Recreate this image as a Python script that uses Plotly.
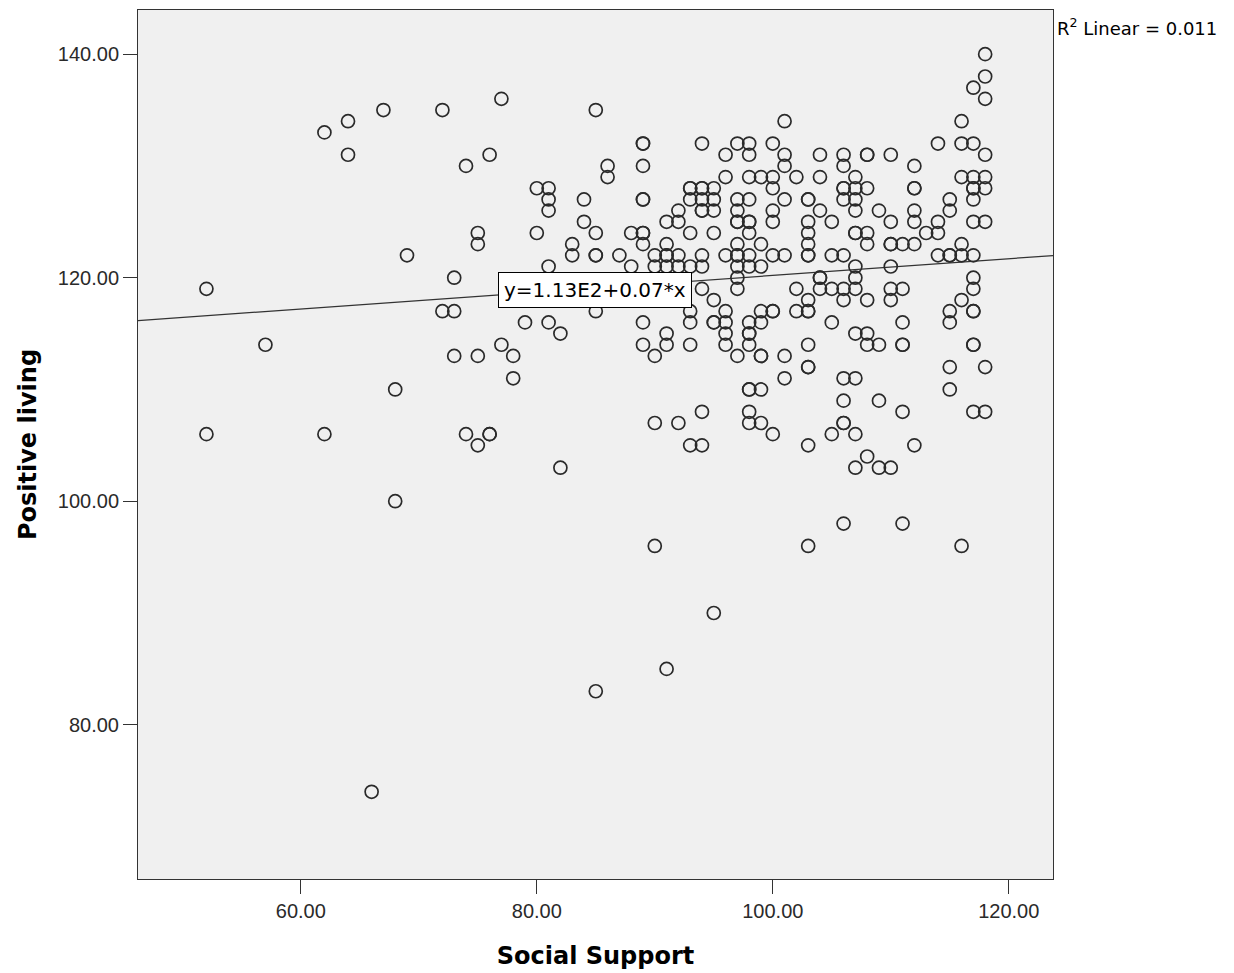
import plotly.graph_objects as go

social_support = [
    52, 52, 57, 62, 62, 64, 64, 66, 67, 68, 68, 69, 72, 72, 73, 73, 73, 74, 74, 75, 75, 75, 75, 76, 76, 76, 77, 77, 78, 78, 79, 81, 82, 82,
    85, 86, 86, 80, 81, 81, 81, 84, 84, 85, 80, 83, 83, 85, 85, 87, 81, 85,
    101, 89, 89, 94, 97, 98, 100, 96, 98, 101, 101, 89,
    96, 98, 99, 100, 102,
    100, 93, 93, 94, 94, 95,
    89, 89, 93, 94, 95, 97, 98, 101, 103, 103,
    92, 94, 94, 95, 97, 100,
    91, 92, 97, 97, 98, 98, 100, 103,
    88, 89, 89, 93, 95, 98, 103,
    89, 91, 97, 99, 103,
    90, 91, 91, 92, 94, 96, 97, 97, 98, 100, 101, 103, 103,
    88, 90, 91, 92, 93, 94, 97, 98, 99,
    118, 118, 117, 118, 116, 114, 116, 117, 118, 104, 106, 106, 108, 108, 110, 112,
    104, 107, 116, 117, 118,
    106, 106, 107, 108, 112, 112, 117, 117, 118,
    106, 107, 115, 117,
    104, 107, 109, 112, 115,
    105, 110, 112, 114, 117, 118,
    107, 107, 108, 113, 114,
    108, 110, 110, 111, 112, 116,
    105, 106, 114, 115, 115, 116, 117,
    107, 110,
    97, 97, 94, 95, 96, 93, 93, 89, 95, 95, 96, 98, 99, 100, 100, 99, 98, 98, 96, 91,
    89, 91, 93, 96, 98, 90, 97, 99, 99, 101, 101, 98, 98, 99, 94, 98, 90, 92, 98, 99,
    100, 93, 94, 102, 102, 103, 103, 103, 103,
    104, 104, 107, 117, 104, 105, 106, 107, 110, 111, 117,
    103, 106, 108, 110, 116,
    103, 115, 117, 117,
    105, 111, 115,
    107, 108,
    108, 109, 111, 111, 117, 117,
    103, 115, 118,
    106, 107, 115, 106, 109, 111, 117, 118, 106, 106, 105, 107, 112, 108, 107, 109, 110,
    90, 103, 106, 111, 116, 95, 91, 85,
]
positive_living = [
    119, 106, 114, 133, 106, 134, 131, 74, 135, 110, 100, 122, 135, 117, 117, 120, 113, 130, 106, 124, 123, 113, 105, 131, 106, 106, 136, 114, 113, 111, 116, 116, 115, 103,
    135, 130, 129, 128, 128, 127, 126, 127, 125, 124, 124, 123, 122, 122, 122, 122, 121, 117,
    134, 132, 132, 132, 132, 132, 132, 131, 131, 131, 130, 130,
    129, 129, 129, 129, 129,
    128, 128, 128, 128, 128, 128,
    127, 127, 127, 127, 127, 127, 127, 127, 127, 127,
    126, 126, 126, 126, 126, 126,
    125, 125, 125, 125, 125, 125, 125, 125,
    124, 124, 124, 124, 124, 124, 124,
    123, 123, 123, 123, 123,
    122, 122, 122, 122, 122, 122, 122, 122, 122, 122, 122, 122, 122,
    121, 121, 121, 121, 121, 121, 121, 121, 121,
    140, 138, 137, 136, 134, 132, 132, 132, 131, 131, 131, 130, 131, 131, 131, 130,
    129, 129, 129, 129, 129,
    128, 128, 128, 128, 128, 128, 128, 128, 128,
    127, 127, 127, 127,
    126, 126, 126, 126, 126,
    125, 125, 125, 125, 125, 125,
    124, 124, 124, 124, 124,
    123, 123, 123, 123, 123, 123,
    122, 122, 122, 122, 122, 122, 122,
    121, 121,
    120, 119, 119, 118, 117, 117, 116, 116, 116, 116, 116, 116, 117, 117, 117, 116, 115, 115, 115, 115,
    114, 114, 114, 114, 114, 113, 113, 113, 113, 113, 111, 110, 110, 110, 108, 108, 107, 107, 107, 107,
    106, 105, 105, 119, 117, 117, 114, 112, 105,
    120, 120, 120, 120, 119, 119, 119, 119, 119, 119, 119,
    118, 118, 118, 118, 118,
    117, 117, 117, 117,
    116, 116, 116,
    115, 115,
    114, 114, 114, 114, 114, 114,
    112, 112, 112,
    111, 111, 110, 109, 109, 108, 108, 108, 107, 107, 106, 106, 105, 104, 103, 103, 103,
    96, 96, 98, 98, 96, 90, 85, 83,
]

# Linear fit shown in the reference
fit_intercept = 112.7
fit_slope = 0.075
fit_label = "y=1.13E2+0.07*x"
r2_label = "R<sup>2</sup> Linear = 0.011"

x_range = [46.2, 123.75]
y_range = [66.2, 143.95]
x_ticks = [60, 80, 100, 120]
y_ticks = [80, 100, 120, 140]

fig = go.Figure()
fig.add_trace(go.Scatter(
    x=x_range, y=[fit_intercept + fit_slope * v for v in x_range],
    mode="lines", line=dict(color="#333333", width=1.2),
    hoverinfo="skip", showlegend=False,
))
fig.add_trace(go.Scatter(
    x=social_support, y=positive_living, mode="markers",
    marker=dict(symbol="circle-open", size=13, color="#2a2a2a", line=dict(width=1.7)),
    showlegend=False,
))

fig.add_annotation(
    x=84.9, y=118.9, xref="x", yref="y", text=fit_label, showarrow=False,
    font=dict(family="DejaVu Sans", size=20, color="#000"),
    bgcolor="white", bordercolor="#000", borderwidth=1, borderpad=5,
)
fig.add_annotation(
    x=1.0, y=1.0, xref="paper", yref="paper", xanchor="left", yanchor="top",
    text=r2_label, showarrow=False, xshift=2, yshift=-3,
    font=dict(family="DejaVu Sans", size=18, color="#000"),
)

axis_font = dict(family="Liberation Sans, Arial", size=20, color="#2a2a2a")
title_font = dict(family="DejaVu Sans", size=24, color="#000")
fig.update_layout(
    width=1226, height=965,
    margin=dict(l=130, r=181, t=2, b=94),
    paper_bgcolor="white", plot_bgcolor="#f0f0f0",
    xaxis=dict(
        range=x_range, tickvals=x_ticks, tickformat=".2f",
        showgrid=False, zeroline=False, showline=True, mirror=True,
        linecolor="#333", linewidth=1, ticks="outside", ticklen=14, tickcolor="#333",
        tickfont=axis_font,
        title=dict(text="<b>Social Support</b>", standoff=26, font=title_font),
    ),
    yaxis=dict(
        range=y_range, tickvals=y_ticks, tickformat=".2f",
        showgrid=False, zeroline=False, showline=True, mirror=True,
        linecolor="#333", linewidth=1, ticks="outside", ticklen=14, tickcolor="#333",
        tickfont=axis_font,
        title=dict(text="<b>Positive living</b>", standoff=14, font=title_font),
    ),
)

fig.write_html("out.html")
